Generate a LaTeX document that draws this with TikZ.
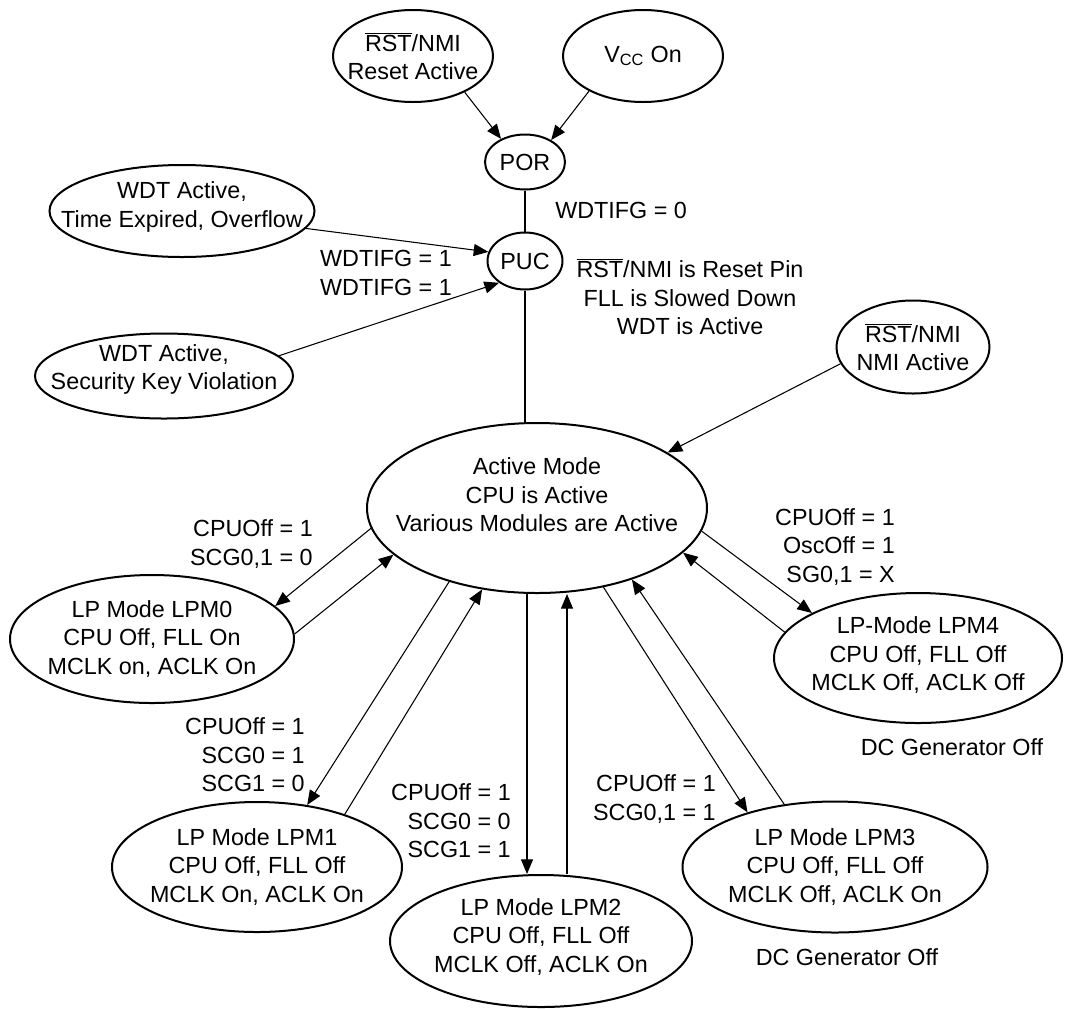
\documentclass[tikz,border=0pt]{standalone}
\usepackage{fontspec}
\setmainfont{Liberation Sans}
\usetikzlibrary{shapes.geometric,arrows.meta}
\newcommand{\rstbar}{$\overline{\hbox{RST}}$}

\begin{document}
\begin{tikzpicture}[x=0.75pt,y=-0.75pt,
  every node/.style={font=\fontsize{17.5}{21.4}\selectfont},
  every label/.style={align=center,inner sep=0pt},
  st/.style 2 args={ellipse,draw,line width=1.5pt,inner sep=0pt,
    minimum width=#1*0.75pt,minimum height=#2*0.75pt},
  lbl/.style={align=right,anchor=east,inner sep=0pt},
  arr/.style={line width=0.8pt,-{Triangle[length=11pt,width=9pt]}}]
\useasboundingbox (0,0) rectangle (1070,1008);
% reset sources, POR and PUC
\node[st={160}{92},label={center:{\rstbar/NMI\\Reset Active}}] (rst) at (413,56) {};
\node[st={160}{92},label={center:{V\textsubscript{CC} On}}] (vcc) at (643,56) {};
\node[st={80}{55},label={center:POR}] (por) at (525,162) {};
\node[st={75}{57},label={center:PUC}] (puc) at (525,261) {};
\node[st={265}{92},label={[yshift=3pt]center:{WDT Active,\\Time Expired, Overflow}}] (wdta) at (182,211) {};
\node[st={258}{85},label={[yshift=5pt]center:{WDT Active,\\Security Key Violation}}] (wdtb) at (164,376) {};
\node[st={153}{93},label={center:{\rstbar/NMI\\NMI Active}}] (nmi) at (913,347) {};
% active mode and the low power modes
\node[st={340}{170},label={[yshift=10pt]center:{Active Mode\\CPU is Active\\Various Modules are Active}}] (act) at (537,508) {};
\node[st={284}{128},label={center:{LP Mode LPM0\\CPU Off, FLL On\\MCLK on, ACLK On}}] (lpm0) at (152,639) {};
\node[st={290}{130},label={center:{LP Mode LPM1\\CPU Off, FLL Off\\MCLK On, ACLK On}}] (lpm1) at (257,867) {};
\node[st={302}{132},label={[yshift=3pt]center:{LP Mode LPM2\\CPU Off, FLL Off\\MCLK Off, ACLK On}}] (lpm2) at (541,941) {};
\node[st={305}{131},label={center:{LP Mode LPM3\\CPU Off, FLL Off\\MCLK Off, ACLK On}}] (lpm3) at (835,867) {};
\node[st={288}{130},label={[yshift=2pt]center:{LP-Mode LPM4\\CPU Off, FLL Off\\MCLK Off, ACLK Off}}] (lpm4) at (918,658) {};
% condition labels
\node[anchor=west,inner sep=0pt] (wz) at (555,210) {WDTIFG = 0};
\node[lbl] (wone) at (452,273) {WDTIFG = 1\\WDTIFG = 1};
\node[align=center] (pin) at (690,297) {\rstbar/NMI is Reset Pin\\FLL is Slowed Down\\WDT is Active};
\node[lbl] (c0) at (313,544) {CPUOff = 1\\SCG0,1 = 0};
\node[lbl] (c4) at (895,547) {CPUOff = 1\\OscOff = 1\\SG0,1 = X};
\node[lbl] (c1) at (305,755) {CPUOff = 1\\SCG0 = 1\\SCG1 = 0};
\node[lbl] (c2) at (511,821) {CPUOff = 1\\SCG0 = 0\\SCG1 = 1};
\node[lbl] (c3) at (716,799) {CPUOff = 1\\SCG0,1 = 1};
\node (dc4) at (952,747) {DC Generator Off};
\node (dc3) at (847,957) {DC Generator Off};
% transitions
\draw[arr] (rst.-35) -- (por.136);
\draw[arr] (vcc.213) -- (por.40);
\draw[line width=0.8pt] (por) -- (puc);
\draw[arr] (wdta.-8) -- (puc.166);
\draw[arr] (wdtb.10) -- (puc.220);
\draw[line width=0.8pt] (puc.south) -- (puc.south |- act.north);
\draw[arr] (nmi.193) -- (act.23);
\draw[arr] (act.187) -- (lpm0.15);
\draw[arr] (lpm0.2) -- (act.198);
\draw[arr] (act.220) -- (lpm1.51);
\draw[arr] (lpm1.31) -- (act.236);
\draw[arr] ([xshift=-7.5pt]act.south) -- ([xshift=-7.5pt]act.south |- lpm2.north);
\draw[arr] ([xshift=22.5pt]act.south |- lpm2.north) -- ([xshift=22.5pt]act.south);
\draw[arr] (act.-50) -- (lpm3.148);
\draw[arr] (lpm3.129) -- (act.-37);
\draw[arr] (act.-8) -- (lpm4.157);
\draw[arr] (lpm4.169) -- (act.-17);
\end{tikzpicture}
\end{document}
